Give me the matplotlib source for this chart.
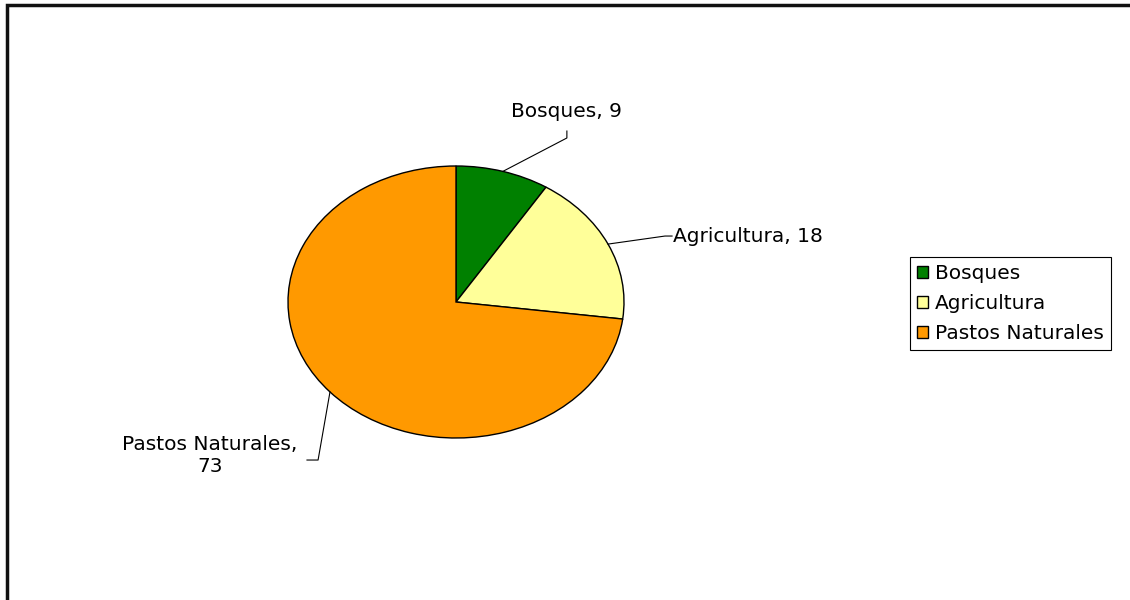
import numpy as np
import matplotlib.pyplot as plt
from matplotlib.patches import Rectangle

plt.rcParams['font.family'] = ['DejaVu Sans']

categories = ["Bosques", "Agricultura", "Pastos Naturales"]
values = [9, 18, 73]
colors = ["#008000", "#FFFF99", "#FF9900"]

# leader line elbows / ends and label positions (pie radius units)
elbows = [(0.66, 1.206), (1.244, 0.485), (-0.821, -1.162)]
ends = [(0.66, 1.257), (1.286, 0.485), (-0.887, -1.162)]
label_pos = [(0.655, 1.40), (1.29, 0.478), (-1.464, -1.13)]
label_ha = ["center", "left", "center"]
label_text = ["Bosques, 9", "Agricultura, 18", "Pastos Naturales,\n73"]

fig = plt.figure(figsize=(11.3, 6), dpi=100)
ax = fig.add_axes([246 / 1130, 128 / 600, 420 / 1130, 340 / 600])

wedges, _ = ax.pie(values, colors=colors, startangle=90, counterclock=False,
                   wedgeprops=dict(edgecolor="black", linewidth=1))
ax.set_aspect('auto')
ax.set_xlim(-1.25, 1.25)
ax.set_ylim(-1.25, 1.25)

# leader lines from the middle of each slice
total = sum(values)
cum = np.cumsum([0] + values)
for i in range(len(values)):
    mid = np.deg2rad(90 - (cum[i] + values[i] / 2) / total * 360)
    x0, y0 = np.cos(mid), np.sin(mid)
    ax.plot([x0, elbows[i][0], ends[i][0]], [y0, elbows[i][1], ends[i][1]],
            color="black", lw=0.8, clip_on=False)
    ax.text(label_pos[i][0], label_pos[i][1], label_text[i], ha=label_ha[i],
            va="center", fontsize=14.5, multialignment="center",
            linespacing=1.2)

leg = fig.legend(wedges, categories, loc="upper left",
                 bbox_to_anchor=(910 / 1130, 1 - 257 / 600), fontsize=14.5,
                 fancybox=False, edgecolor="black", framealpha=1,
                 handlelength=0.55, handleheight=0.55, handletextpad=0.35,
                 borderpad=0.35, labelspacing=0.55, borderaxespad=0)
leg.get_frame().set_linewidth(0.8)

# outer chart border
fig.patches.append(Rectangle((7 / 1130, -0.1), 1.2, 1.1 - 5 / 600,
                             transform=fig.transFigure, fill=False,
                             edgecolor="#111111", lw=2.5))

plt.savefig("out.png", dpi=100)
